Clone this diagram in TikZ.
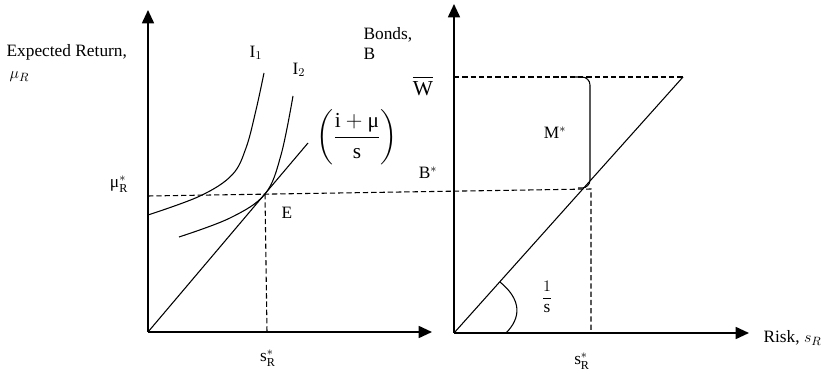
\documentclass[tikz,border=0pt]{standalone}
\usepackage{amsmath}
\usepackage{fontspec}
\setmainfont{Liberation Serif}
\usetikzlibrary{arrows.meta}

\begin{document}
\begin{tikzpicture}[x=0.75pt, y=-0.75pt,
  axisline/.style={line width=1.3pt, -{Triangle[length=10pt, width=9pt]}},
  curveline/.style={line width=0.8pt},
  guideline/.style={line width=0.8pt, dash pattern=on 4pt off 2.2pt},
  lbl/.style={font=\fontsize{13}{15}\selectfont, inner sep=1pt},
  biglbl/.style={font=\fontsize{16}{19}\selectfont, inner sep=1pt}
]
\useasboundingbox (0,0) rectangle (826,374);

% Origins and key points
\coordinate (o1) at (148,332);
\coordinate (o2) at (454,333);
\coordinate (e)  at (265,194);
\coordinate (bs) at (591,189);

% Axes
\draw[axisline] (o1) -- (148,10);
\draw[axisline] (o1) -- (432,332);
\draw[axisline] (o2) -- (454,4);
\draw[axisline] (o2) -- (749,333);

% Left panel: budget line and indifference curves
\draw[curveline] (o1) -- (308,143);
\draw[curveline] plot[smooth, tension=0.6] coordinates
  {(148,215) (200,196) (232,175) (246,148) (256,110) (264,73)};
\draw[curveline] plot[smooth, tension=0.6] coordinates
  {(179,237) (230,218) (e) (281,155) (293,96)};

% Guides
\draw[guideline] (e) -- (267,332);
\draw[guideline] (148,196) -- (bs) -- (591,333);
\draw[guideline] (454,77) -- (683,77);

% Right panel: wealth line, bracket and angle
\draw[curveline] (o2) -- (683,77);
\draw[curveline, rounded corners=6pt] (575,77) -| (590,188) -- (578,188);
\draw[curveline] (500,282) .. controls (522,300) and (521,318) .. (506,333);

% Labels
\node[lbl, anchor=west] (er) at (5,52) {Expected Return,};
\node[lbl, anchor=west] (mur) at (8,77) {$\mu_R$};
\node[lbl] (i1) at (256,53) {I$_1$};
\node[lbl] (i2) at (299,70) {I$_2$};
\node[lbl, anchor=north west, align=left] (bonds) at (362,26) {Bonds,\\ B};
\node[biglbl] (wbar) at (423,86) {$\overline{\text{W}}$};
\node[lbl] (bstar) at (428,173) {B$^*$};
\node[biglbl] (slope) at (357,137) {$\left(\dfrac{\text{i}+\text{μ}}{\text{s}}\right)$};
\node[lbl] (mustar) at (119,184) {$\text{μ}^{*}_{\text{R}}$};
\node[lbl] (elbl) at (287,213) {E};
\node[lbl] (sr1) at (268,358) {$\text{s}^{*}_{\text{R}}$};
\node[lbl] (sr2) at (582,361) {$\text{s}^{*}_{\text{R}}$};
\node[lbl] (mst) at (555,133) {M$^*$};
\node[lbl] (inv) at (547,297) {$\dfrac{1}{\text{s}}$};
\node[lbl, anchor=west] (risk) at (762,338) {Risk, $s_R$};
\end{tikzpicture}
\end{document}
